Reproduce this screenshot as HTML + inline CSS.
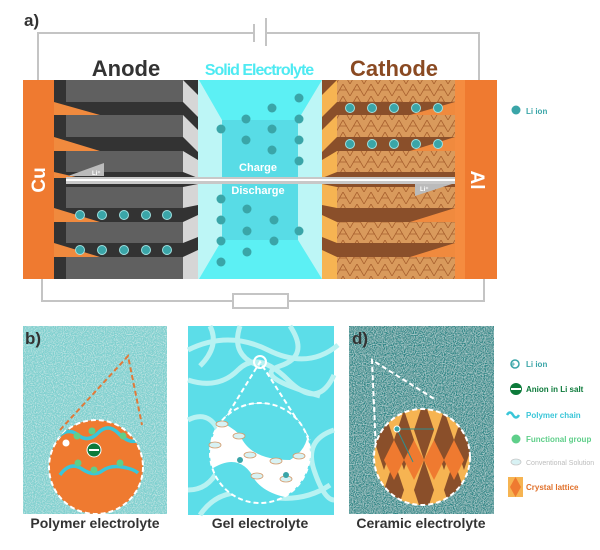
<!DOCTYPE html>
<html><head><meta charset="utf-8"><style>
html,body{margin:0;padding:0;background:#fff;width:600px;height:550px;overflow:hidden}
svg{display:block;font-family:"Liberation Sans",Arial,sans-serif;font-weight:bold}
</style></head><body>
<svg width="600" height="550" viewBox="0 0 600 550" xmlns="http://www.w3.org/2000/svg">
<defs>
<filter id="nz" x="0" y="0" width="100%" height="100%">
<feTurbulence type="fractalNoise" baseFrequency="0.9" numOctaves="1" result="t"/>
<feColorMatrix in="t" type="matrix" values="0 0 0 0 1  0 0 0 0 1  0 0 0 0 1  0 0 0 1.3 -0.55" result="w"/>
<feComposite in="w" in2="SourceGraphic" operator="in" result="wc"/>
<feMerge><feMergeNode in="SourceGraphic"/><feMergeNode in="wc"/></feMerge>
</filter>
<filter id="nzd" x="0" y="0" width="100%" height="100%">
<feTurbulence type="fractalNoise" baseFrequency="0.9" numOctaves="1" result="t"/>
<feColorMatrix in="t" type="matrix" values="0 0 0 0 0.75  0 0 0 0 0.95  0 0 0 0 0.95  0 0 0 1.4 -0.5" result="w"/>
<feComposite in="w" in2="SourceGraphic" operator="in" result="wc"/>
<feMerge><feMergeNode in="SourceGraphic"/><feMergeNode in="wc"/></feMerge>
</filter>
<pattern id="cat" width="14" height="12" patternUnits="userSpaceOnUse">
<rect width="14" height="12" fill="#d99a5c"/>
<path d="M0 12 L7 0 L14 12 M3 6 H11" stroke="#a8602e" stroke-width="0.8" fill="none"/>
</pattern>
<clipPath id="cb"><circle cx="96" cy="467" r="47"/></clipPath>
<clipPath id="cd"><circle cx="422" cy="457" r="48"/></clipPath>
<clipPath id="cc"><circle cx="260" cy="453" r="50"/></clipPath>
</defs>

<!-- a) -->
<text x="24" y="26" font-size="17" fill="#333">a)</text>
<polyline points="38,80 38,33 254,33" fill="none" stroke="#c4c4c4" stroke-width="2"/>
<polyline points="266,33 479,33 479,80" fill="none" stroke="#c4c4c4" stroke-width="2"/>
<line x1="254" y1="24" x2="254" y2="42" stroke="#c4c4c4" stroke-width="2"/>
<line x1="266" y1="18" x2="266" y2="46" stroke="#c4c4c4" stroke-width="2"/>
<polyline points="42,279 42,301 233,301" fill="none" stroke="#c4c4c4" stroke-width="2"/>
<polyline points="288,301 484,301 484,279" fill="none" stroke="#c4c4c4" stroke-width="2"/>
<rect x="233" y="294" width="55" height="14" fill="#fff" stroke="#c4c4c4" stroke-width="2"/>

<text x="126" y="76" font-size="22" fill="#333" text-anchor="middle">Anode</text>
<text x="259" y="75" font-size="16" fill="#4eeaf2" text-anchor="middle" letter-spacing="-1">Solid Electrolyte</text>
<text x="394" y="76" font-size="22" fill="#8a4a22" text-anchor="middle">Cathode</text>

<!-- Anode -->
<rect x="54" y="80" width="144" height="199" fill="#333"/>
<g fill="#f08a3e">
<polygon points="54,102 100,115 54,115"/><polygon points="54,137 100,151 54,151"/>
<polygon points="54,172 80,178 54,178"/><polygon points="54,208 100,222 54,222"/><polygon points="54,243 100,257 54,257"/>
</g>
<g fill="#606060">
<rect x="66" y="80" width="117" height="22"/><rect x="66" y="115" width="117" height="22"/>
<rect x="66" y="151" width="117" height="21"/><rect x="66" y="187" width="117" height="21"/>
<rect x="66" y="222" width="117" height="21"/><rect x="66" y="257" width="117" height="22"/>
</g>
<g fill="#d6d6d6">
<polygon points="183,80 198,95 198,117 183,102"/><polygon points="183,115 198,130 198,152 183,137"/>
<polygon points="183,151 198,160 198,178 183,172"/><polygon points="183,187 198,184 198,205 183,208"/>
<polygon points="183,222 198,215 198,237 183,243"/><polygon points="183,257 198,250 198,279 183,279"/>
</g>
<!-- Cu -->
<rect x="23" y="80" width="31" height="199" fill="#ef7a30"/>
<text transform="translate(45,180) rotate(-90)" font-size="19" fill="#fff" text-anchor="middle">Cu</text>

<!-- Electrolyte -->
<polygon points="198,80 322,80 322,279 198,279" fill="#bdf6f6"/>
<polygon points="199,80 322,80 298,120 298,240 322,279 199,279 222,240 222,120" fill="#5cf0f4"/>
<rect x="222" y="120" width="76" height="120" fill="#58dce6"/>
<g fill="#3aa5a8">
<circle cx="299" cy="98" r="4.5"/><circle cx="272" cy="108" r="4.5"/><circle cx="246" cy="119" r="4.5"/><circle cx="299" cy="119" r="4.5"/>
<circle cx="221" cy="129" r="4.5"/><circle cx="272" cy="129" r="4.5"/><circle cx="246" cy="140" r="4.5"/><circle cx="299" cy="140" r="4.5"/>
<circle cx="272" cy="150" r="4.5"/><circle cx="299" cy="161" r="4.5"/><circle cx="221" cy="199" r="4.5"/><circle cx="247" cy="209" r="4.5"/>
<circle cx="221" cy="220" r="4.5"/><circle cx="274" cy="220" r="4.5"/><circle cx="247" cy="231" r="4.5"/><circle cx="299" cy="231" r="4.5"/>
<circle cx="221" cy="241" r="4.5"/><circle cx="274" cy="241" r="4.5"/><circle cx="247" cy="252" r="4.5"/><circle cx="221" cy="262" r="4.5"/>
</g>

<!-- Cathode -->
<rect x="322" y="80" width="133" height="199" fill="#8a4f2a"/>
<g fill="#f08a3e">
<polygon points="455,102 410,115 455,115"/><polygon points="455,137 410,151 455,151"/>
<polygon points="455,208 410,222 455,222"/><polygon points="455,243 410,257 455,257"/>
</g>
<g fill="url(#cat)">
<rect x="337" y="80" width="118" height="22"/><rect x="337" y="115" width="118" height="22"/>
<rect x="337" y="151" width="118" height="21"/><rect x="337" y="187" width="118" height="21"/>
<rect x="337" y="222" width="118" height="21"/><rect x="337" y="257" width="118" height="22"/>
</g>
<g fill="#f6b452">
<polygon points="337,80 322,95 322,117 337,102"/><polygon points="337,115 322,130 322,152 337,137"/>
<polygon points="337,151 322,160 322,178 337,172"/><polygon points="337,187 322,184 322,205 337,208"/>
<polygon points="337,222 322,215 322,237 337,243"/><polygon points="337,257 322,250 322,279 337,279"/>
</g>
<rect x="455" y="80" width="42" height="199" fill="#ef7a30"/>
<rect x="455" y="80" width="10" height="199" fill="#f58c40"/>
<text transform="translate(471,180) rotate(90)" font-size="19" fill="#fff" text-anchor="middle">Al</text>

<!-- dots anode/cathode -->
<g fill="#3aa5a8" stroke="#9fe0e0" stroke-width="1">
<circle cx="80" cy="215" r="4.5"/><circle cx="102" cy="215" r="4.5"/><circle cx="124" cy="215" r="4.5"/><circle cx="146" cy="215" r="4.5"/><circle cx="167" cy="215" r="4.5"/>
<circle cx="80" cy="250" r="4.5"/><circle cx="102" cy="250" r="4.5"/><circle cx="124" cy="250" r="4.5"/><circle cx="146" cy="250" r="4.5"/><circle cx="167" cy="250" r="4.5"/>
<circle cx="350" cy="108" r="4.5"/><circle cx="372" cy="108" r="4.5"/><circle cx="394" cy="108" r="4.5"/><circle cx="416" cy="108" r="4.5"/><circle cx="438" cy="108" r="4.5"/>
<circle cx="350" cy="144" r="4.5"/><circle cx="372" cy="144" r="4.5"/><circle cx="394" cy="144" r="4.5"/><circle cx="416" cy="144" r="4.5"/><circle cx="438" cy="144" r="4.5"/>
</g>

<!-- wire -->
<rect x="66" y="177" width="389" height="7" fill="#c8c8c8"/>
<rect x="66" y="179" width="389" height="2" fill="#fff"/>
<polygon points="104,163 104,176 68,176" fill="#bbbbbb"/>
<text x="92" y="175" font-size="6" fill="#fff">Li⁺</text>
<polygon points="415,184 452,184 415,196" fill="#bbbbbb"/>
<text x="420" y="191" font-size="6" fill="#fff">Li⁺</text>
<text x="258" y="171" font-size="11" fill="#fff" text-anchor="middle">Charge</text>
<text x="258" y="194" font-size="11" fill="#fff" text-anchor="middle">Discharge</text>

<circle cx="516" cy="110" r="4.5" fill="#3aa5a8"/>
<text x="526" y="114" font-size="8" fill="#3aa5a8">Li ion</text>

<!-- b) -->
<rect x="23" y="326" width="144" height="188" fill="#7fd0cf" filter="url(#nz)"/>
<text x="25" y="344" font-size="17" fill="#333">b)</text>
<polyline points="60,430 128,356 142,425" fill="none" stroke="#e07a3a" stroke-width="2" stroke-dasharray="5,3"/>
<circle cx="96" cy="467" r="47" fill="#ef7a30" stroke="#fff" stroke-width="2" stroke-dasharray="5,3"/>
<g clip-path="url(#cb)">
<path d="M58 437 q10 -10 20 -2 t20 -2 t20 0 t18 8" fill="none" stroke="#3ac6d8" stroke-width="3.5"/>
<path d="M60 475 q10 -14 22 -6 t20 2 t20 -4 t16 6" fill="none" stroke="#3ac6d8" stroke-width="3.5"/>
</g>
<g fill="#5fcf8a"><circle cx="77" cy="436" r="3.5"/><circle cx="92" cy="431" r="3.5"/><circle cx="123" cy="436" r="3.5"/><circle cx="78" cy="463" r="3.5"/><circle cx="94" cy="470" r="3.5"/><circle cx="120" cy="463" r="3.5"/></g>
<circle cx="94" cy="450" r="7" fill="#0c7a3a" stroke="#fff" stroke-width="1"/>
<rect x="89" y="449" width="10" height="2" fill="#fff"/>
<circle cx="66" cy="443" r="3.5" fill="#fff"/>
<text x="95" y="528" font-size="14" fill="#333" text-anchor="middle">Polymer electrolyte</text>

<!-- c) -->
<rect x="188" y="326" width="146" height="189" fill="#5cdde8"/>
<g fill="none" stroke="#b8f2f2" stroke-width="5">
<path d="M188 350 q40 -20 80 0 t70 -5"/><path d="M188 380 q30 10 50 -10 t50 10 t46 -5"/>
<path d="M188 420 q20 -10 30 10 t0 40 t-30 20"/><path d="M240 326 q-10 30 20 40"/>
<path d="M290 326 q20 30 -10 40 t40 30"/><path d="M334 430 q-30 10 -20 40 t20 30"/>
<path d="M200 515 q20 -30 60 -20 t70 -10"/><path d="M210 326 q10 20 -10 40"/>
</g>
<polyline points="212,440 260,362 310,440" fill="none" stroke="#fff" stroke-width="2" stroke-dasharray="5,3"/>
<circle cx="260" cy="362" r="6" fill="none" stroke="#fff" stroke-width="2"/>
<circle cx="260" cy="453" r="50" fill="#fff"/>
<g clip-path="url(#cc)" fill="#5cdde8">
<path d="M215 420 q40 -30 90 -5 q10 30 -15 45 q-40 0 -50 -25 q-10 -10 -25 -15z"/>
<path d="M210 470 q30 -20 45 10 q15 20 60 20 q-30 30 -105 0z"/>
</g>
<circle cx="260" cy="453" r="50" fill="none" stroke="#fff" stroke-width="2" stroke-dasharray="5,3"/>
<g fill="#d8f2f4" stroke="#d49a6a" stroke-width="0.8">
<ellipse cx="222" cy="424" rx="6" ry="3"/><ellipse cx="239" cy="436" rx="6" ry="3"/><ellipse cx="215" cy="445" rx="6" ry="3"/>
<ellipse cx="250" cy="455" rx="6" ry="3"/><ellipse cx="276" cy="461" rx="6" ry="3"/><ellipse cx="299" cy="456" rx="6" ry="3"/>
<ellipse cx="257" cy="476" rx="6" ry="3"/><ellipse cx="286" cy="479" rx="6" ry="3"/>
</g>
<circle cx="240" cy="460" r="3" fill="#3aa5a8"/><circle cx="286" cy="475" r="3" fill="#3aa5a8"/>
<text x="260" y="528" font-size="14" fill="#333" text-anchor="middle">Gel electrolyte</text>

<!-- d) -->
<rect x="349" y="326" width="145" height="188" fill="#2c8686" filter="url(#nzd)"/>
<text x="352" y="344" font-size="17" fill="#333">d)</text>
<polyline points="376,452 372,360 436,400" fill="none" stroke="#fff" stroke-width="2" stroke-dasharray="5,3"/>
<circle cx="422" cy="457" r="48" fill="#f6b452"/>
<g clip-path="url(#cd)">
<g fill="#8a4f2a">
<polygon points="384,410 394,440 384,470 374,440"/><polygon points="404,410 414,440 404,470 394,440"/>
<polygon points="424,400 434,430 424,460 414,430"/><polygon points="444,410 454,440 444,470 434,440"/>
<polygon points="464,410 474,440 464,470 454,440"/>
<polygon points="394,460 404,490 394,520 384,490"/><polygon points="424,460 434,490 424,520 414,490"/><polygon points="454,460 464,490 454,520 444,490"/>
</g>
<g fill="#ef7a30">
<polygon points="414,440 424,460 414,480 404,460"/><polygon points="434,440 444,460 434,480 424,460"/>
<polygon points="394,440 404,460 394,480 384,460"/><polygon points="454,440 464,460 454,480 444,460"/>
</g>
</g>
<circle cx="422" cy="457" r="48" fill="none" stroke="#fff" stroke-width="2" stroke-dasharray="5,3"/>
<line x1="397" y1="429" x2="434" y2="429" stroke="#2f8e8e" stroke-width="1"/>
<line x1="397" y1="429" x2="413" y2="462" stroke="#2f8e8e" stroke-width="1"/>
<circle cx="397" cy="429" r="3" fill="#3aa5a8" stroke="#fff"/>
<text x="421" y="528" font-size="14" fill="#333" text-anchor="middle">Ceramic electrolyte</text>

<!-- legend -->
<circle cx="515" cy="364" r="4" fill="#fff" stroke="#3aa5a8" stroke-width="1.5"/>
<text x="513" y="366.5" font-size="7" fill="#3aa5a8" text-anchor="middle">+</text>
<text x="526" y="367" font-size="8" fill="#3aa5a8">Li ion</text>
<circle cx="516" cy="389" r="6" fill="#0c7a3a"/><rect x="511" y="388" width="10" height="2" fill="#fff"/>
<text x="526" y="392" font-size="8" fill="#0c7a3a">Anion in Li salt</text>
<path d="M507 415 q3 -5 6 0 t6 0" fill="none" stroke="#3ac6d8" stroke-width="2.5"/>
<text x="526" y="418" font-size="8" fill="#3ac6d8">Polymer chain</text>
<circle cx="516" cy="439" r="4.5" fill="#5fcf8a"/>
<text x="526" y="442" font-size="8" fill="#5fcf8a">Functional group</text>
<ellipse cx="516" cy="462" rx="5" ry="3" fill="#d8f2f4" stroke="#c8c8c8" stroke-width="0.8"/>
<text x="526" y="465" font-size="7" fill="#bdbdbd" font-weight="normal">Conventional Solution</text>
<rect x="508" y="477" width="15" height="20" fill="#f6b452"/>
<polygon points="515.5,477 521,487 515.5,497 510,487" fill="#ef7a30"/>
<text x="526" y="490" font-size="8" fill="#e0702a">Crystal lattice</text>
</svg>
</body></html>
